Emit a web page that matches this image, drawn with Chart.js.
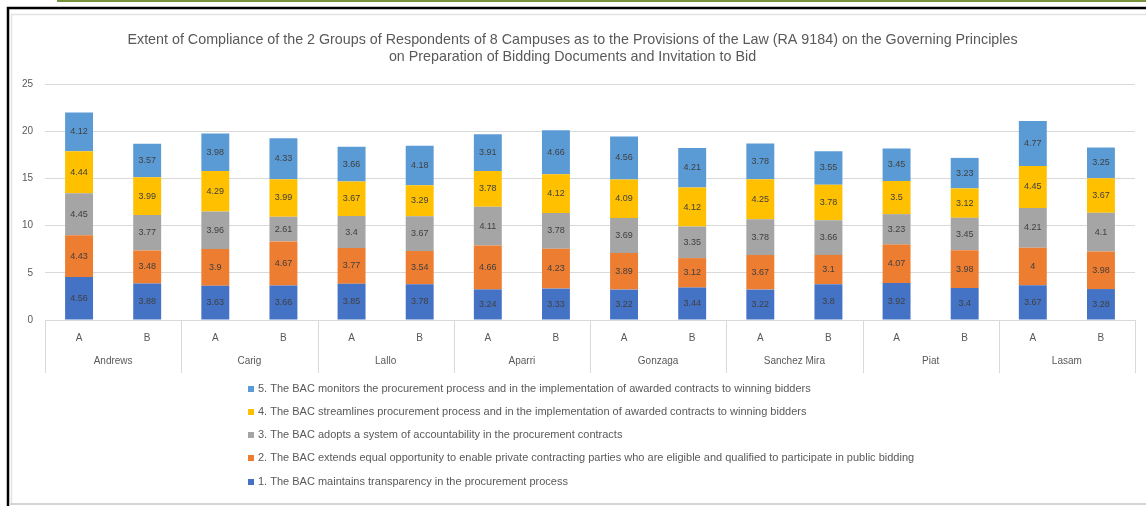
<!DOCTYPE html>
<html><head><meta charset="utf-8">
<script src="https://cdn.jsdelivr.net/npm/chart.js@4.4.1/dist/chart.umd.min.js"></script>
<style>html,body{margin:0;padding:0;background:#fff}#wrap{width:1146px;height:506px;position:relative}</style>
</head><body><div id="wrap"><canvas id="c" width="1146" height="506"></canvas></div>
<script>
const campuses = ["Andrews","Carig","Lallo","Aparri","Gonzaga","Sanchez Mira","Piat","Lasam"];
const groups = ["A","B"];
const seriesNames = [
  "1. The BAC maintains transparency in the procurement process",
  "2. The BAC extends equal opportunity to enable private contracting parties who are eligible and qualified to participate in public bidding",
  "3. The BAC adopts a system of accountability in the procurement contracts",
  "4. The BAC streamlines procurement process and in the implementation of awarded contracts to winning bidders",
  "5. The BAC monitors the procurement process and in the implementation of awarded contracts to winning bidders"
];
const s1 = [4.56,3.88, 3.63,3.66, 3.85,3.78, 3.24,3.33, 3.22,3.44, 3.22,3.8, 3.92,3.4, 3.67,3.28];
const s2 = [4.43,3.48, 3.9,4.67, 3.77,3.54, 4.66,4.23, 3.89,3.12, 3.67,3.1, 4.07,3.98, 4,3.98];
const s3 = [4.45,3.77, 3.96,2.61, 3.4,3.67, 4.11,3.78, 3.69,3.35, 3.78,3.66, 3.23,3.45, 4.21,4.1];
const s4 = [4.44,3.99, 4.29,3.99, 3.67,3.29, 3.78,4.12, 4.09,4.12, 4.25,3.78, 3.5,3.12, 4.45,3.67];
const s5 = [4.12,3.57, 3.98,4.33, 3.66,4.18, 3.91,4.66, 4.56,4.21, 3.78,3.55, 3.45,3.23, 4.77,3.25];
const yTicks = [0,5,10,15,20,25];
const titleLines = ["Extent of Compliance of the 2 Groups of Respondents of 8 Campuses as to the Provisions of the Law (RA 9184) on the Governing Principles",
  "on Preparation of Bidding Documents and Invitation to Bid"];

const colors = ["#4472C4","#ED7D31","#A5A5A5","#FFC000","#5B9BD5"];
const FONT = "'Liberation Sans', Arial, sans-serif";
const TXT = "#595959";

const labels = campuses.flatMap(() => groups);
const seriesData = [s1,s2,s3,s4,s5];

const framePlugin = {
  id: 'frame',
  beforeDraw(chart) {
    const ctx = chart.ctx;
    ctx.save();
    ctx.fillStyle = '#fff'; ctx.fillRect(0,0,chart.width,chart.height);
    ctx.strokeStyle = '#76923c'; ctx.lineWidth = 2;
    ctx.beginPath(); ctx.moveTo(57,1); ctx.lineTo(1146,1); ctx.stroke();
    ctx.strokeStyle = '#000'; ctx.lineWidth = 2.5;
    ctx.beginPath(); ctx.moveTo(1146,8); ctx.lineTo(8,8); ctx.lineTo(8,506); ctx.stroke();
    ctx.strokeStyle = '#e3e3e3'; ctx.lineWidth = 1.5;
    ctx.beginPath(); ctx.moveTo(1146,14.5); ctx.lineTo(11.5,14.5); ctx.lineTo(11.5,504); ctx.stroke();
    ctx.strokeStyle = '#d4d4d4'; ctx.lineWidth = 2;
    ctx.beginPath(); ctx.moveTo(9,504); ctx.lineTo(1146,504); ctx.stroke();
    ctx.restore();
  }
};

const groupPlugin = {
  id: 'groups',
  afterDraw(chart) {
    const ctx = chart.ctx, xs = chart.scales.x, area = chart.chartArea;
    ctx.save();
    ctx.strokeStyle = '#d9d9d9'; ctx.lineWidth = 1;
    const half = (xs.getPixelForValue(1) - xs.getPixelForValue(0)) / 2;
    for (let g = 0; g <= campuses.length; g++) {
      const x = Math.round(g < campuses.length ? xs.getPixelForValue(2*g) - half : xs.getPixelForValue(2*g-1) + half) + 0.5;
      ctx.beginPath(); ctx.moveTo(x, area.bottom); ctx.lineTo(x, area.bottom + 53); ctx.stroke();
    }
    ctx.fillStyle = TXT; ctx.font = "10px " + FONT; ctx.textAlign = 'center'; ctx.textBaseline = 'middle';
    campuses.forEach((c, g) => {
      const x = (xs.getPixelForValue(2*g) + xs.getPixelForValue(2*g+1)) / 2;
      ctx.fillText(c, x, area.bottom + 41);
    });
    ctx.restore();
  }
};

const valueLabelPlugin = {
  id: 'valueLabels',
  afterDatasetsDraw(chart) {
    const ctx = chart.ctx;
    ctx.save();
    ctx.fillStyle = '#404040'; ctx.font = "9px " + FONT; ctx.textAlign = 'center'; ctx.textBaseline = 'middle';
    chart.data.datasets.forEach((ds, i) => {
      chart.getDatasetMeta(i).data.forEach((el, j) => {
        ctx.fillText(String(ds.data[j]), el.x, (el.y + el.base) / 2);
      });
    });
    ctx.restore();
  }
};

const legendPlugin = {
  id: 'vlegend',
  afterDraw(chart) {
    const ctx = chart.ctx;
    ctx.save();
    ctx.font = "11px " + FONT; ctx.textBaseline = 'middle'; ctx.textAlign = 'left';
    const ds = chart.data.datasets;
    const rowY = [482, 458, 435, 412, 389];
    for (let i = ds.length - 1; i >= 0; i--) {
      const y = rowY[i];
      ctx.fillStyle = ds[i].backgroundColor;
      ctx.fillRect(248, y - 3, 6, 6);
      ctx.fillStyle = TXT;
      ctx.fillText(ds[i].label, 258, y);
    }
    ctx.restore();
  }
};

new Chart(document.getElementById('c'), {
  type: 'bar',
  data: {
    labels: labels,
    datasets: seriesData.map((d, i) => ({
      label: seriesNames[i], data: d, backgroundColor: colors[i],
      barPercentage: 0.41, categoryPercentage: 1.0, borderWidth: 0
    }))
  },
  options: {
    responsive: false, animation: false,
    layout: { padding: { left: 10, right: 11, top: 20, bottom: 126 } },
    plugins: {
      legend: { display: false },
      tooltip: { enabled: false },
      title: {
        display: true, text: titleLines, color: TXT,
        font: { family: FONT, size: 14.3, weight: 'normal', lineHeight: 1.2 },
        padding: { top: 11.8, bottom: 18 }
      }
    },
    scales: {
      x: {
        stacked: true,
        grid: { display: false, drawTicks: false },
        border: { display: true, color: '#d9d9d9' },
        ticks: { color: TXT, font: { family: FONT, size: 10 }, padding: 12, maxRotation: 0, autoSkip: false },
        afterFit(s) { s.height = 60; }
      },
      y: {
        stacked: true, min: 0, max: 25,
        afterBuildTicks(s) { s.ticks = yTicks.map(v => ({ value: v })); },
        grid: { color: '#d9d9d9', drawTicks: false },
        border: { display: false },
        ticks: { color: TXT, font: { family: FONT, size: 10 }, padding: 12 },
        afterFit(s) { s.width = 35; }
      }
    }
  },
  plugins: [framePlugin, groupPlugin, valueLabelPlugin, legendPlugin]
});
</script>
</body></html>
